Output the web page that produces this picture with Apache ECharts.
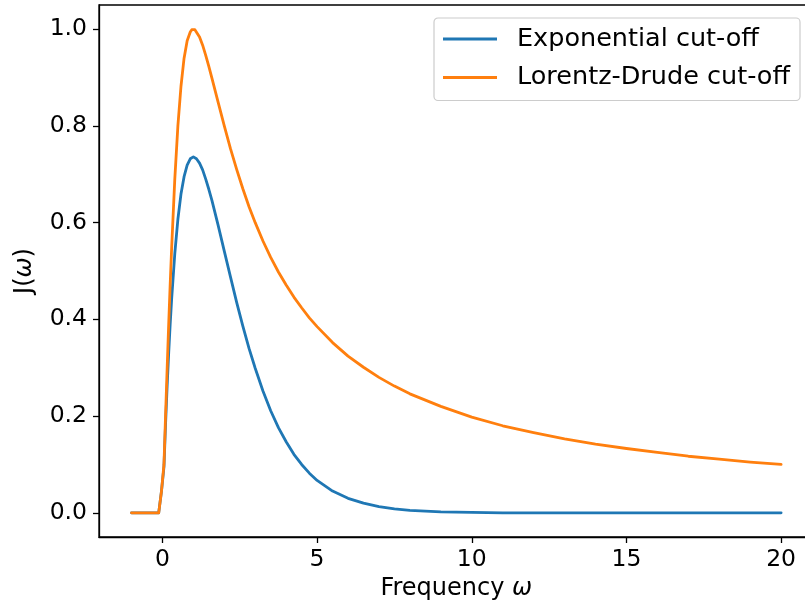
<!DOCTYPE html>
<html>
<head>
<meta charset="utf-8">
<script src="https://cdn.jsdelivr.net/npm/echarts@6/dist/echarts.min.js"></script>
<style>
html,body{margin:0;padding:0;background:#fff;}
#c{width:805px;height:607px;}
</style>
</head>
<body>
<div id="c"></div>
<script>
var omega = [-1, -0.5, -0.12, -0.03, 0.05, 0.1, 0.15, 0.2, 0.25, 0.3, 0.4, 0.5, 0.6, 0.7, 0.8, 0.9, 0.95, 1.0, 1.05, 1.1, 1.2, 1.3, 1.4, 1.5, 1.6, 1.8, 2.0, 2.2, 2.4, 2.6, 2.8, 3.0, 3.25, 3.5, 3.75, 4.0, 4.25, 4.5, 4.75, 5, 5.5, 6, 6.5, 7, 7.5, 8, 9, 10, 11, 12, 13, 14, 15, 16, 17, 18, 19, 20];
var expCut = [0, 0, 0, 0.045, 0.095, 0.181, 0.258, 0.327, 0.389, 0.444, 0.536, 0.607, 0.659, 0.695, 0.719, 0.732, 0.735, 0.736, 0.735, 0.732, 0.723, 0.709, 0.690, 0.669, 0.646, 0.595, 0.541, 0.488, 0.435, 0.386, 0.340, 0.299, 0.252, 0.211, 0.176, 0.147, 0.121, 0.100, 0.082, 0.067, 0.045, 0.030, 0.020, 0.013, 0.008, 0.005, 0.002, 0.001, 0, 0, 0, 0, 0, 0, 0, 0, 0, 0];
var lorentzCut = [0, 0, 0, 0.045, 0.100, 0.198, 0.293, 0.385, 0.471, 0.550, 0.690, 0.800, 0.882, 0.940, 0.976, 0.994, 0.999, 1.000, 0.999, 0.995, 0.984, 0.967, 0.946, 0.923, 0.899, 0.849, 0.800, 0.753, 0.710, 0.670, 0.633, 0.600, 0.562, 0.528, 0.498, 0.471, 0.446, 0.424, 0.403, 0.385, 0.352, 0.324, 0.301, 0.280, 0.262, 0.246, 0.220, 0.198, 0.180, 0.166, 0.153, 0.142, 0.133, 0.125, 0.117, 0.111, 0.105, 0.100];
var xTicks = [0, 5, 10, 15, 20];
var yTicks = [0.0, 0.2, 0.4, 0.6, 0.8, 1.0];
var seriesNames = ['Exponential cut-off', 'Lorentz-Drude cut-off'];

function pairs(xs, ys) { return xs.map(function (x, i) { return [x, ys[i]]; }); }

var FONT = 'DejaVu Sans';
var chart = echarts.init(document.getElementById('c'), null, { renderer: 'canvas' });
chart.setOption({
  animation: false,
  backgroundColor: '#fff',
  textStyle: { fontFamily: FONT },
  grid: {
    left: 99, top: 5, width: 714.6, height: 532,
    containLabel: false, outerBoundsMode: 'none',
    show: true, borderColor: '#000', borderWidth: 1.3, backgroundColor: 'transparent'
  },
  legend: {
    orient: 'vertical',
    left: 434, top: 18,
    padding: [8, 10, 10, 9],
    itemGap: 12.5,
    itemWidth: 54, itemHeight: 3,
    icon: 'rect',
    backgroundColor: 'rgba(255,255,255,0.8)',
    borderColor: '#cccccc', borderWidth: 1.2, borderRadius: 4,
    textStyle: { fontFamily: FONT, fontSize: 25.5, color: '#000', padding: [0, 0, 0, 15] },
    data: seriesNames
  },
  xAxis: {
    type: 'value', min: -2.05, max: 21.05,
    name: '{a|Frequency }{b|ω}',
    nameLocation: 'middle', nameGap: 40,
    nameTextStyle: { rich: { a: { fontFamily: FONT, fontSize: 24, color: '#000' }, b: { fontFamily: FONT, fontSize: 24, fontStyle: 'italic', color: '#000' } } },
    axisLine: { show: true, onZero: false, lineStyle: { color: '#000', width: 1.3 } },
    axisTick: { show: true, length: 6, lineStyle: { color: '#000', width: 1.3 }, customValues: xTicks },
    axisLabel: { fontFamily: FONT, fontSize: 23.5, color: '#000', margin: 11, customValues: xTicks, formatter: function (v) { return String(v); } },
    splitLine: { show: false }
  },
  yAxis: {
    type: 'value', min: -0.05, max: 1.05,
    name: '{a|J(}{b|ω}{a|)}',
    nameLocation: 'middle', nameGap: 62,
    nameTextStyle: { rich: { a: { fontFamily: FONT, fontSize: 24, color: '#000' }, b: { fontFamily: FONT, fontSize: 24, fontStyle: 'italic', color: '#000' } } },
    axisLine: { show: true, onZero: false, lineStyle: { color: '#000', width: 1.3 } },
    axisTick: { show: true, length: 6, lineStyle: { color: '#000', width: 1.3 }, customValues: yTicks },
    axisLabel: { fontFamily: FONT, fontSize: 23.5, color: '#000', margin: 12, customValues: yTicks, formatter: function (v) { return v.toFixed(1); } },
    splitLine: { show: false }
  },
  series: [
    { name: seriesNames[0], type: 'line', data: pairs(omega, expCut), showSymbol: false, symbol: 'none',
      lineStyle: { color: '#1f77b4', width: 2.8, join: 'round', cap: 'round' }, itemStyle: { color: '#1f77b4' } },
    { name: seriesNames[1], type: 'line', data: pairs(omega, lorentzCut), showSymbol: false, symbol: 'none',
      lineStyle: { color: '#ff7f0e', width: 2.8, join: 'round', cap: 'round' }, itemStyle: { color: '#ff7f0e' } }
  ]
});
</script>
</body>
</html>
